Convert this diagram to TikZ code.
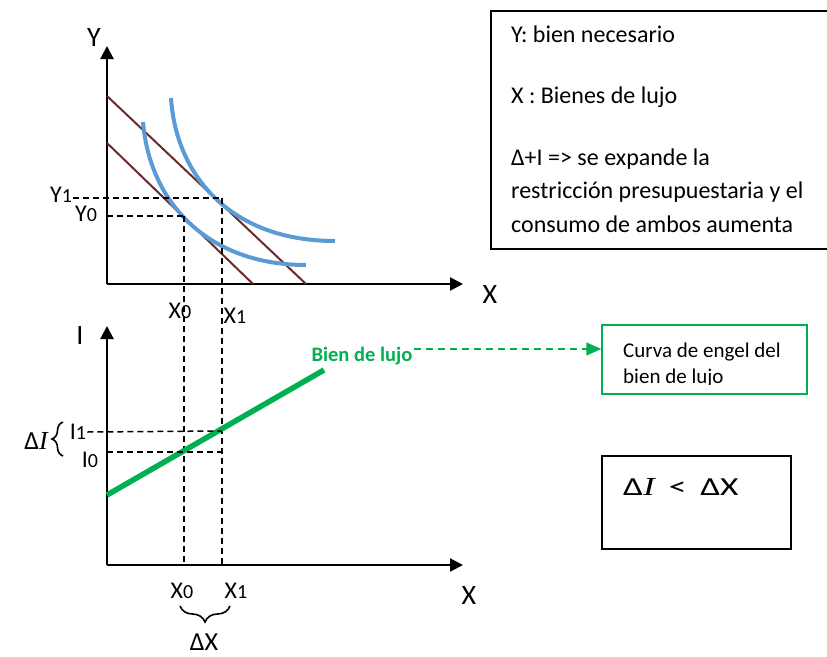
\documentclass[tikz,border=0pt]{standalone}
\usepackage{fontspec}
\setmainfont{Carlito}
\newfontfamily\serifit{Liberation Serif}
\usetikzlibrary{arrows.meta,decorations.pathreplacing}
\definecolor{budget}{HTML}{6B2B2B}
\definecolor{indiff}{HTML}{5B9BD5}
\definecolor{engel}{HTML}{00B050}
\newcommand\sbs[1]{{\fontsize{20}{20}\selectfont #1}}
\begin{document}
\begin{tikzpicture}[x=1pt,y=-1pt,
  axis/.style={line width=2.2pt,-{Triangle[length=13pt,width=13pt]}},
  guide/.style={line width=1.5pt, dash pattern=on 6pt off 4pt},
  lbl/.style={font=\fontsize{24}{24}\selectfont, inner sep=0pt},
  biglbl/.style={font=\fontsize{28}{28}\selectfont, inner sep=0pt},
  boxtxt/.style={font=\fontsize{24}{24}\selectfont, inner sep=0pt, anchor=base west},
  budgetline/.style={budget, line width=2pt},
  icurve/.style={indiff, line width=4pt},
  brace/.style={decorate, decoration={brace, amplitude=#1}, line width=1.6pt}
]
\useasboundingbox (0,0) rectangle (827,656);

% ---------- top graph ----------
\coordinate (O1) at (107,284);
\coordinate (Ytop) at (107,46);
\coordinate (Xr1) at (463,284);
\draw[axis] (O1) -- (Ytop);
\draw[axis] (O1) -- (Xr1);
\node[biglbl] (Ylab) at (94,38) {Y};
\node[biglbl] (Xlab1) at (490,295) {X};

% budget lines
\coordinate (B1a) at (107,96);  \coordinate (B1b) at (306,284);
\coordinate (B0a) at (107,143); \coordinate (B0b) at (253,284);
\draw[budgetline] (B1a) -- (B1b);
\draw[budgetline] (B0a) -- (B0b);

% indifference curves
\coordinate (U0s) at (143,122); \coordinate (U0e) at (306,265);
\coordinate (U1s) at (171,98);  \coordinate (U1e) at (335,241);
\draw[icurve] (U0s) .. controls (150,205) and (210,265) .. (U0e);
\draw[icurve] (U1s) .. controls (176,175) and (230,241) .. (U1e);

% equilibrium points and guides
\coordinate (E0) at (184,216);
\coordinate (E1) at (222,198);
\node[lbl] (Y1lab) at (61,195) {Y\sbs{1}};
\node[lbl] (Y0lab) at (86,214) {Y\sbs{0}};
\draw[guide] (Y1lab.east) ++(1,3) -- (E1);
\draw[guide] (O1 |- E0) -- (E0);

% ---------- bottom graph ----------
\coordinate (O2) at (107,565);
\coordinate (Itop) at (107,326);
\coordinate (Xr2) at (463,565);
\draw[axis] (O2) -- (Itop);
\draw[axis] (O2) -- (Xr2);
\node[biglbl] (Ilab) at (80,336) {I};
\node[biglbl] (Xlab2) at (469,596) {X};

% vertical guides through both graphs
\coordinate (V0) at (184,565);
\coordinate (V1) at (222,565);
\draw[guide] (E0) -- (V0);
\draw[guide] (E1) -- (V1);

\node[lbl] (X0top) at (180,311) {X\sbs{0}};
\node[lbl] (X1top) at (235,316) {X\sbs{1}};

% Engel curve
\coordinate (G0) at (107,495);
\coordinate (G1) at (324,370);
\draw[engel, line width=5.5pt] (G0) -- (G1);

% income guides
\node[lbl] (I1lab) at (78,432) {I\sbs{1}};
\node[lbl] (I0lab) at (90,460) {I\sbs{0}};
\coordinate (P1) at (222,431);
\coordinate (P0) at (222,452);
\draw[guide] (I1lab.east) ++(1,0) -- (P1);
\draw[guide] (O2 |- P0) -- (P0);

% Delta I brace
\draw[brace=11pt] (63,456) -- (63,422);
\node[biglbl, font=\fontsize{26}{26}\selectfont] (dI) at (36,441) {Δ{\serifit\itshape I}};

% bottom X labels and brace
\node[lbl] (X0bot) at (182,591) {X\sbs{0}};
\node[lbl] (X1bot) at (236,591) {X\sbs{1}};
\draw[brace=16pt] (230,606) -- (180,606);
\node[biglbl, font=\fontsize{26}{26}\selectfont, anchor=base] (dX) at (204,650) {ΔX};

% Bien de lujo label and arrow
\node[font=\fontsize{20.5}{20.5}\selectfont\bfseries, text=engel, inner sep=0pt] (lujo) at (362,356) {Bien de lujo};
\node[draw=engel, line width=1.5pt, minimum width=205pt, minimum height=69pt, inner sep=0pt] (engelbox) at (704.5,359.5) {};
\begin{scope}
  \clip (602,325) rectangle (807,384);
  \node[boxtxt, font=\fontsize{21}{21}\selectfont] (c1) at (623,357) {Curva de engel del};
  \node[boxtxt, font=\fontsize{21}{21}\selectfont] (c2) at (623,383) {bien de lujo};
\end{scope}
\coordinate (arrowstart) at (414,349);
\draw[engel, line width=1.5pt, dash pattern=on 7pt off 5pt, -{Triangle[length=15pt,width=13pt]}] (arrowstart) -- (arrowstart -| engelbox.west);

% Delta I < Delta X box
\node[draw, line width=1.5pt, minimum width=189pt, minimum height=93pt, inner sep=0pt] (ineqbox) at (696.5,502.5) {};
\node[font=\fontsize{26}{26}\selectfont, inner sep=0pt, anchor=base west] (ineq) at (623,495) {\scalebox{1.36}[1]{Δ{\serifit\itshape I} \,<\, ΔX}};

% top right legend box
\node[draw, line width=1.5pt, minimum width=345pt, minimum height=238pt, inner sep=0pt, anchor=north west] (legend) at (490,10) {};
\node[boxtxt] (t1) at (511,42) {Y: bien necesario};
\node[boxtxt] (t2) at (511,103) {X : Bienes de lujo};
\node[boxtxt] (t3) at (511,165) {Δ+I => se expande la};
\node[boxtxt] (t4) at (511,198) {restricción presupuestaria y el};
\node[boxtxt] (t5) at (511,232) {consumo de ambos aumenta};
\end{tikzpicture}
\end{document}
